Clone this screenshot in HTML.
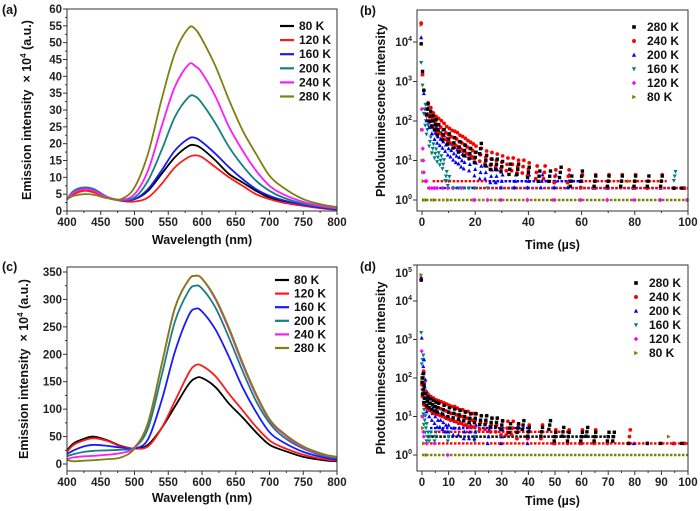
<!DOCTYPE html>
<html><head><meta charset="utf-8">
<style>
html,body{margin:0;padding:0;background:#fff;}
svg{display:block;font-family:"Liberation Sans",Arial,sans-serif;}
.tick{font-size:11.5px;fill:#222;font-weight:bold;}
.ttl{font-size:12.5px;font-weight:bold;fill:#111;}
.leg{font-size:12px;font-weight:bold;fill:#111;}
</style></head>
<body>
<svg id="fig" width="700" height="511" viewBox="0 0 700 511"></svg>
<script>
// ---------- data ----------
const wl = [400,410,425,440,460,480,500,520,540,560,580,590,600,620,640,660,680,700,720,750,780,800];
const tempLabels = ["80 K","120 K","160 K","200 K","240 K","280 K"];
const lineColors = ["#000000","#ff1a1a","#1a1aff","#168080","#ff1aff","#808010"];
// panel (a)
const a80  = [3.5,5.5,6.5,6,4,3.2,3.5,6,11,16,19.3,19.5,18.5,15,11,8.5,6,4,3,1.7,0.8,0.5];
const a120 = [3.5,5,6,5.5,4,3,2.8,4,8,13,16,16.5,16,13,10,7.5,5,3.5,2.5,1.5,0.7,0.4];
const a160 = [3.5,5.5,6.8,6.3,4,3.2,3.5,6.5,12,18,21.5,21.7,20.5,17,13,9.5,6.5,4.5,3.2,1.8,0.9,0.5];
const a200 = [3.5,6,7,6.5,4.2,3.3,4,9,18,28,33.8,34,32,26,19,13.5,9,6,4,2.2,1.2,0.7];
const a240 = [3.5,5.5,6.5,6,4,3.3,5,12,25,37,43.5,43,41,34,25,18,12,7.5,5,2.7,1.4,0.9];
const a280 = [3.5,4.5,5,4.8,3.8,3.5,7,17,33,47,54.3,54,51,43,33,24,17,10.5,7,3.5,1.8,1.2];
// panel (c)
const c80  = [25,38,46,50,43,33,28,35,65,105,145,156,157,140,110,85,58,35,25,13,7,5];
const c120 = [22,35,43,47,42,32,28,32,65,115,165,180,179,160,128,98,68,43,30,17,9,6];
const c160 = [18,25,32,35,33,30,28,45,115,205,270,283,278,245,195,140,95,58,40,22,12,8];
const c200 = [14,18,22,24,25,26,30,65,160,260,315,325,320,285,230,170,115,75,50,28,15,11];
const c240 = [9,12,14,15,17,20,30,75,180,285,335,343,338,300,245,182,125,80,55,30,17,12];
const c280 = [7,5,6,7,9,12,28,75,180,285,335,343,338,302,248,185,128,82,57,32,18,13];
// panel (b) decay scatter
const scatLabels = ["280 K","240 K","200 K","160 K","120 K","80 K"];
const scatColors = ["#000000","#ff0000","#0000ff","#007f7f","#ff00ff","#7f7f00"];
const b280t = [0,0.5,1,2,3,4,5,6,8,10,12,14,16,18,20,22,24,26,28,30,33,36,40,44,48,52,56,60,65,70,75,80,85,90,95,98];
const b280v = [9000,1800,600,200,130,100,80,60,45,35,28,22,18,15,12,20,10,8,8,7,6,6,5,4,4,5,3,4,3,3,3,3,3,3,2,2];
const b240t = [0,0.5,1,2,3,4,5,6,7,8,9,10,11,12,13,14,15,16,17,18,19,20,22,24,26,28,30,32,34,36,38,40,43,46,50,55,60,65,70,75,80,85,90,95,99];
const b240v = [30000,1500,600,200,150,110,90,80,70,60,50,45,40,38,35,30,28,25,22,20,18,16,14,12,11,10,9,8,8,7,7,6,5,5,4,4,3,3,3,3,3,2,3,2,2];
const b200t = [0,0.5,1,2,3,4,5,6,7,8,9,10,11,12,13,14,15,16,18,20,22,24,26,28,30,35,40,45,50,55,60,65,70,80,90,99];
const b200v = [13000,1500,500,150,100,70,50,40,35,30,25,20,18,15,13,12,10,9,8,6,5,5,4,4,3,3,3,3,3,3,3,2,2,2,2,2];
const b160t = [0,0.5,1,1.5,2,3,4,5,6,7,8,9,10,12,14,16,18,20,25,30,35,40,50,60,70,95];
const b160v = [3000,800,200,100,60,30,20,15,12,10,8,4,3,2,2,2,2,2,2,2,2,2,2,2,2,4];
const b120t = [0,0.2,0.4,0.6,0.8,1,1.5,2,3,4,5,6,8,10,12,15,20,25,30,40,50,60,70,80,90,100];
const b120v = [30000,200,60,20,10,5,3,3,2,2,2,2,2,2,2,2,1,1,1,1,1,1,1,1,1,1];
const b80t = [0,0.2,0.4,0.6,0.8,1,2,5,10,20,30,40,50,60,70,78,90,100];
const b80v = [27000,60,10,5,3,1,1,1,1,1,1,1,1,1,1,3,1,1];
const bSpread = [1.35,1.45,1.45,1.3,1,1];
const bFloorLevel = [1,2,3,2,3];
const bFloorStart = [0,2,4,20,25];
const bFloorEnd   = [100,100,92,100,60];
const bFloorColor = ["#7f7f00","#0000ff","#ff0000","#ff0000","#0000ff"];
// panel (d)
const d280t = [0,0.3,0.5,1,2,3,4,5,6,8,10,12,14,16,18,20,22,24,26,28,30,33,36,38,40,45,48,50,53,55,60,62,65,70,72,78,85,90,98];
const d280v = [35000,100,50,30,25,22,20,18,17,15,13,12,11,10,9,9,8,8,7,7,6,5,5,6,4,4,6,3,4,3,3,4,3,3,3,2,2,2,2];
const d240t = [0,0.3,0.5,1,2,3,4,5,6,7,8,9,10,11,12,13,14,15,16,17,18,19,20,22,24,26,28,30,32,34,36,40,45,50,55,60,65,70,78,85,95,99];
const d240v = [35000,100,50,30,25,22,20,18,17,16,15,14,13,12,12,11,10,10,9,9,8,8,8,7,7,6,6,5,5,5,4,4,4,3,3,3,3,2,3,2,2,2];
const d200t = [0,0.2,0.5,1,1.5,2,3,4,5,6,7,8,9,10,12,14,16,18,20,25,30,40,50,60,80,95];
const d200v = [40000,1100,200,60,30,20,15,12,10,8,8,7,6,6,5,5,4,4,4,3,3,3,2,2,2,2];
const d160t = [0,0.2,0.4,0.6,0.8,1,1.5,2,3,5,10,20];
const d160v = [1500,300,100,40,15,8,5,3,3,3,3,3];
const d120t = [0,0.2,0.4,0.6,0.8,1,2,5,10];
const d120v = [40000,500,50,10,4,3,2,2,1];
const d80t = [0,0.2,0.4,0.6,1,2,93];
const d80v = [48000,100,10,5,2,1,3];
const dSpread = [1.3,1.5,1.5,1.3,1,1];
const dFloorLevel = [1,2,3,4,5];
const dFloorStart = [0,0,2,3,3];
const dFloorEnd   = [100,100,72,55,40];
const dFloorColor = ["#7f7f00","#ff0000","#000000","#ff0000","#0000ff"];

const waveTicks = [400,450,500,550,600,650,700,750,800];
const aTicks = [0,5,10,15,20,25,30,35,40,45,50,55,60];
const cTicks = [0,50,100,150,200,250,300,350];
const bXTicks = [0,20,40,60,80,100];
const dXTicks = [0,10,20,30,40,50,60,70,80,90,100];
const bYExp = [0,1,2,3,4];
const dYExp = [0,1,2,3,4,5];

// ---------- helpers ----------
const NS="http://www.w3.org/2000/svg";
const svg=document.getElementById('fig');
function mk(tag,attrs,parent){const e=document.createElementNS(NS,tag);for(const k in attrs)e.setAttribute(k,attrs[k]);(parent||svg).appendChild(e);return e;}
function lin(d0,d1,r0,r1){return v=>r0+(v-d0)*(r1-r0)/(d1-d0);}

function frame(g,L,R,T,B){
  const f=mk('rect',{x:L,y:T,width:R-L,height:B-T,fill:'none',stroke:'#333','stroke-width':1},g);
  
  
}
function txt(g,x,y,s,cls,anchor,name){
  const t=mk('text',{x:x,y:y,class:cls,'text-anchor':anchor||'start'},g);
  t.textContent=s;
  
  
  return t;
}
function smoothPath(xs,ys){
  let d='M'+xs[0].toFixed(1)+','+ys[0].toFixed(1);
  for(let i=0;i<xs.length-1;i++){
    const x0=xs[Math.max(0,i-1)],y0=ys[Math.max(0,i-1)];
    const x1=xs[i],y1=ys[i],x2=xs[i+1],y2=ys[i+1];
    const x3=xs[Math.min(xs.length-1,i+2)],y3=ys[Math.min(xs.length-1,i+2)];
    d+=' C'+(x1+(x2-x0)/6).toFixed(1)+','+(y1+(y2-y0)/6).toFixed(1)+' '+(x2-(x3-x1)/6).toFixed(1)+','+(y2-(y3-y1)/6).toFixed(1)+' '+x2.toFixed(1)+','+y2.toFixed(1);
  }
  return d;
}

function linePanel(opt){
  const g=mk('g',{});
  
  
  const {L,R,T,B}=opt;
  const X=lin(400,800,L,R), Y=lin(opt.y0v,opt.y1v,opt.y0p,opt.y1p);
  opt.series.forEach((s,i)=>{
    const p=mk('path',{d:smoothPath(wl.map(X),s.map(Y)),fill:'none',stroke:lineColors[i],'stroke-width':1.8},g);
    
    
  });
  frame(g,L,R,T,B);
  waveTicks.forEach((v,i)=>{
    const x=X(v);
    mk('line',{x1:x,x2:x,y1:B,y2:B+4,stroke:'#333'},g);
    if(i<waveTicks.length-1){const xm=X(v+25);mk('line',{x1:xm,x2:xm,y1:B,y2:B+2,stroke:'#333'},g);}
    txt(g,x,B+15,String(v),'tick','middle','x-tick-label');
  });
  opt.yTicks.forEach((v,i)=>{
    const y=Y(v);
    mk('line',{x1:L-4,x2:L,y1:y,y2:y,stroke:'#333'},g);
    if(i<opt.yTicks.length-1){const ym=Y(v+opt.yStep/2);mk('line',{x1:L-2,x2:L,y1:ym,y2:ym,stroke:'#333'},g);}
    txt(g,L-5,y+4,String(v),'tick','end','y-tick-label');
  });
  txt(g,(L+R)/2,opt.xlY,'Wavelength (nm)','ttl','middle','x-axis-title');
  const yt=txt(g,0,0,'','ttl','middle','y-axis-title');
  yt.setAttribute('transform','translate('+opt.ylX+','+(T+B)/2+') rotate(-90)');
  yt.innerHTML='Emission intensity &#160;&#215; 10<tspan dy="-5" font-size="8">4</tspan><tspan dy="5"> (a.u.)</tspan>';
  tempLabels.forEach((lab,i)=>{
    const y=opt.legY+i*opt.legStep;
    const le=mk('g',{},g);
    
    
    mk('line',{x1:opt.legX,x2:opt.legX+14,y1:y,y2:y,stroke:lineColors[i],'stroke-width':2.2},le);
    txt(le,opt.legX+19,y+4,lab,'leg','start','legend-label');
  });
  txt(g,opt.letX,opt.letY,opt.letter,'ttl','start','panel-label');
}

function marker(g,shape,x,y,c,s){
  let e;
  if(shape==='sq') e=mk('rect',{x:x-s,y:y-s,width:2*s,height:2*s,fill:c},g);
  else if(shape==='ci') e=mk('circle',{cx:x,cy:y,r:s*1.1,fill:c},g);
  else if(shape==='tu') e=mk('polygon',{points:`${x},${y-s*1.3} ${x-s*1.2},${y+s} ${x+s*1.2},${y+s}`,fill:c},g);
  else if(shape==='td') e=mk('polygon',{points:`${x},${y+s*1.3} ${x-s*1.2},${y-s} ${x+s*1.2},${y-s}`,fill:c},g);
  else if(shape==='di') e=mk('polygon',{points:`${x},${y-s*1.3} ${x+s*1.2},${y} ${x},${y+s*1.3} ${x-s*1.2},${y}`,fill:c},g);
  else e=mk('polygon',{points:`${x-s},${y-s*1.2} ${x+s*1.3},${y} ${x-s},${y+s*1.2}`,fill:c},g);
  return e;
}
const shapes=['sq','ci','tu','td','di','tr'];

function scatPanel(opt){
  const g=mk('g',{});
  
  
  const {L,R,T,B}=opt;
  const X=lin(0,100,opt.x0p,opt.x100p);
  const Y=v=>opt.y1p-opt.dec*Math.log10(v);
  opt.floorLevel.forEach((lv,i)=>{
    const y=Y(lv);
    const l=mk('line',{x1:X(opt.floorStart[i]),x2:X(opt.floorEnd[i]),y1:y,y2:y,stroke:opt.floorColor[i],'stroke-width':2.4,'stroke-dasharray':'2.5 1.5'},g);
    
    
  });
  for(let i=opt.series.length-1;i>=0;i--){
    const [ts,vs]=opt.series[i];
    const sp=opt.spread[i];
    const sg=mk('g',{},g);
    
    
    ts.forEach((t,j)=>{
      const v=vs[j];
      const fac = (sp>1 && v>2.5 && v<500) ? [1/sp,1,sp] : [1];
      fac.forEach((f,k)=>{
        const m=marker(sg,shapes[i],X(t)+(k-1)*0.8,Y(v*f),scatColors[i],1.7);
        
        
      });
    });
  }
  frame(g,L,R,T,B);
  opt.xTicks.forEach((v,i)=>{
    const x=X(v);
    mk('line',{x1:x,x2:x,y1:B,y2:B+4,stroke:'#333'},g);
    if(i<opt.xTicks.length-1){const xm=X(v+(opt.xTicks[1]-opt.xTicks[0])/2);mk('line',{x1:xm,x2:xm,y1:B,y2:B+2,stroke:'#333'},g);}
    txt(g,x,B+15,String(v),'tick','middle','x-tick-label');
  });
  opt.yExp.forEach(e=>{
    let y=Y(Math.pow(10,e));
    mk('line',{x1:L-4,x2:L,y1:Math.max(y,T),y2:Math.max(y,T),stroke:'#333'},g);
    const t=txt(g,L-5,Math.max(y,T+8)+4,'','tick','end','y-tick-label');
    t.innerHTML='10<tspan dy="-5" font-size="7">'+e+'</tspan>';
  });
  txt(g,(L+R)/2,opt.xlY,'','ttl','middle','x-axis-title').textContent='Time (\u00b5s)';
  const yt=txt(g,0,0,'Photoluminescence intensity','ttl','middle','y-axis-title');
  yt.setAttribute('transform','translate('+opt.ylX+','+(T+B)/2+') rotate(-90)');
  scatLabels.forEach((lab,i)=>{
    const y=opt.legY+i*opt.legStep;
    const le=mk('g',{},g);
    
    
    marker(le,shapes[i],opt.legX,y,scatColors[i],1.8);
    txt(le,opt.legX+13,y+4,lab,'leg','start','legend-label');
  });
  txt(g,opt.letX,opt.letY,opt.letter,'ttl','start','panel-label');
}

linePanel({name:'panel-a',L:67,R:337,T:9,B:211,y0v:0,y1v:60,y0p:211,y1p:9,yTicks:aTicks,yStep:5,
  series:[a80,a120,a160,a200,a240,a280],xlY:244,ylX:31,legX:280,legY:26,legStep:14.1,letter:'(a)',letX:2,letY:14});
linePanel({name:'panel-c',L:67,R:337,T:267,B:471,y0v:0,y1v:350,y0p:464,y1p:272,yTicks:cTicks,yStep:50,
  series:[c80,c120,c160,c200,c240,c280],xlY:502,ylX:28,legX:275,legY:280,legStep:13.6,letter:'(c)',letX:2,letY:271});
scatPanel({name:'panel-b',L:417,R:688,T:10,B:211,x0p:422,x100p:688,y1p:200,dec:39.5,xTicks:bXTicks,yExp:bYExp,
  series:[[b280t,b280v],[b240t,b240v],[b200t,b200v],[b160t,b160v],[b120t,b120v],[b80t,b80v]],spread:bSpread,
  floorLevel:bFloorLevel,floorStart:bFloorStart,floorEnd:bFloorEnd,floorColor:bFloorColor,
  xlY:249,ylX:385,legX:634,legY:27,legStep:14,letter:'(b)',letX:360,letY:15});
scatPanel({name:'panel-d',L:417,R:688,T:265,B:471,x0p:422,x100p:688,y1p:455,dec:38.5,xTicks:dXTicks,yExp:dYExp,
  series:[[d280t,d280v],[d240t,d240v],[d200t,d200v],[d160t,d160v],[d120t,d120v],[d80t,d80v]],spread:dSpread,
  floorLevel:dFloorLevel,floorStart:dFloorStart,floorEnd:dFloorEnd,floorColor:dFloorColor,
  xlY:505,ylX:385,legX:636,legY:283,legStep:14,letter:'(d)',letX:360,letY:271});
</script>
</body></html>
